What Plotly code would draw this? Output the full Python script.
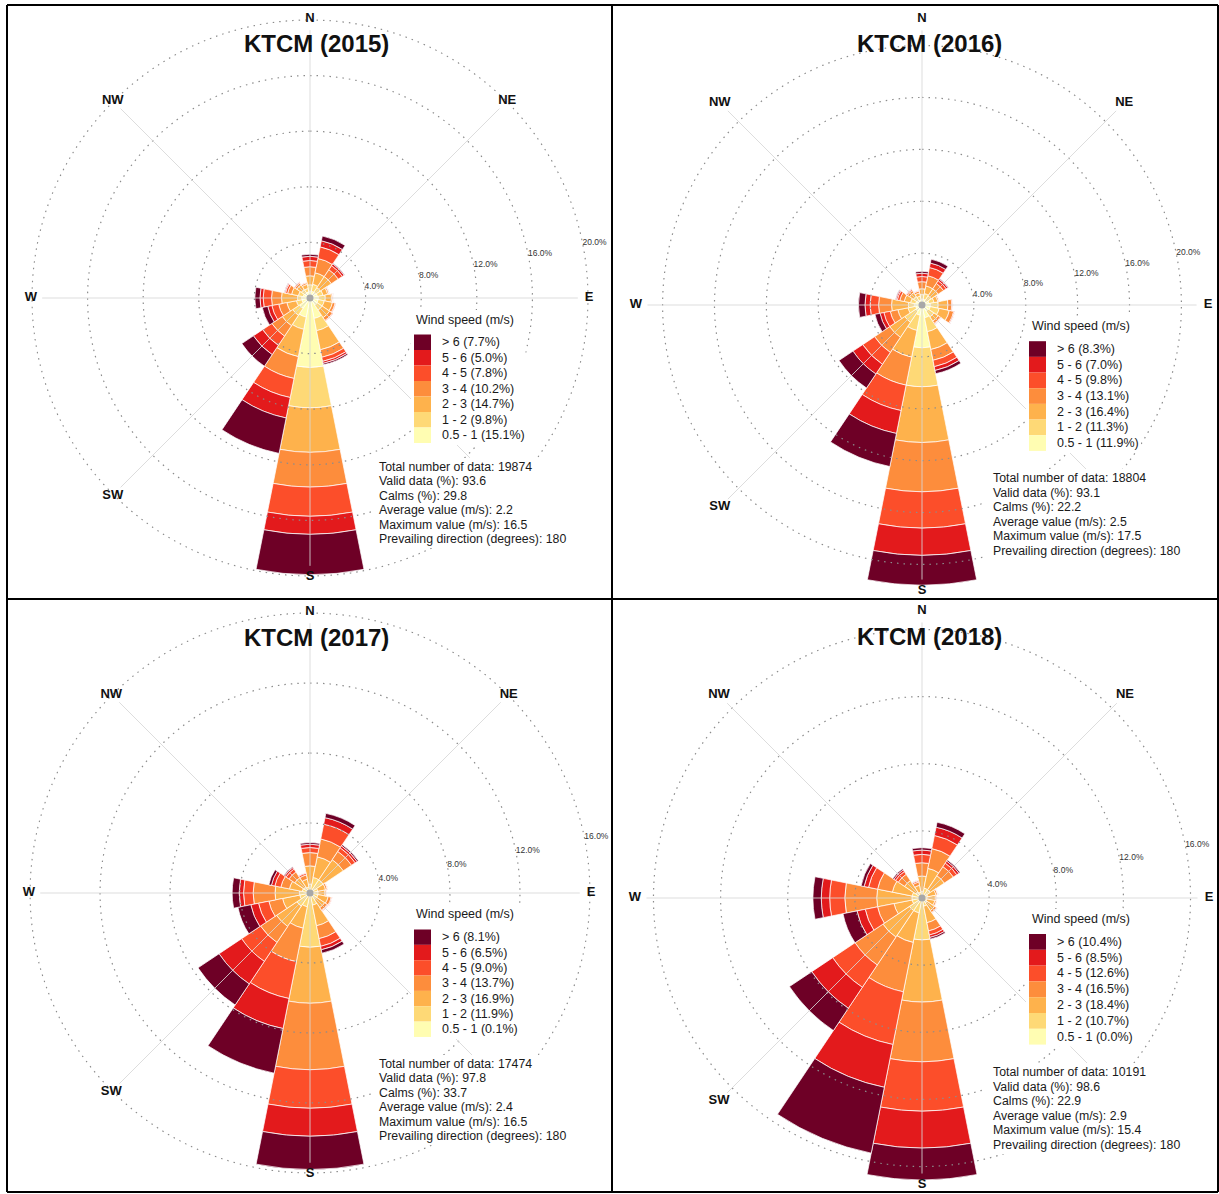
import numpy as np
import plotly.graph_objects as go

W, H = 1219, 1194
FONT = "Liberation Sans, Arial, sans-serif"

# ---- data -------------------------------------------------------------
directions = ["N", "NNE", "NE", "ENE", "E", "ESE", "SE", "SSE",
              "S", "SSW", "SW", "WSW", "W", "WNW", "NW", "NNW"]
bearings = [i * 22.5 for i in range(16)]
speed_bins = ["0.5 - 1", "1 - 2", "2 - 3", "3 - 4", "4 - 5", "5 - 6", "> 6"]
bin_colors = ["#FFFDB2", "#FED976", "#FEB24C", "#FD8D3C",
              "#FC4E2A", "#E31A1C", "#6E0026"]

# frequency (%) of each speed class, by direction N ... NNW
y2015_b0 = [.50, .50, .50, .55, .60, .60, .60, 1.50, 5.00, 1.40, .90, .60, .60, .50, .45, .45]
y2015_b1 = [.45, .50, .40, .40, .50, .45, .45, .90, 2.90, .90, .60, .40, .30, .35, .30, .25]
y2015_b2 = [.65, .85, .95, .35, .45, .60, .65, 1.40, 3.20, 2.00, .90, .70, 1.15, .50, .40, .30]
y2015_b3 = [.65, 1.05, .60, .10, .10, .20, .25, .55, 2.50, 1.60, .90, .60, .72, .30, .15, .12]
y2015_b4 = [.45, .85, .35, .03, .03, .05, .05, .30, 2.10, 1.40, .80, .50, .60, .15, .07, .05]
y2015_b5 = [.30, .45, .15, .01, .01, .00, .00, .15, 1.30, 1.50, .80, .30, .23, .07, .02, .02]
y2015_b6 = [.15, .35, .05, .01, .01, .00, .00, .10, 2.90, 2.60, 1.00, .40, .37, .03, .01, .01]

y2016_b0 = [.45, .45, .40, .55, .65, .65, .60, 1.00, 3.30, .80, .60, .50, .60, .50, .45, .40]
y2016_b1 = [.35, .45, .45, .40, .60, .70, .50, 1.10, 3.00, 1.20, 1.00, .60, .45, .40, .35, .30]
y2016_b2 = [.45, .60, .65, .30, .75, .80, .40, 1.40, 4.30, 2.10, 1.40, .80, 1.30, .50, .35, .25]
y2016_b3 = [.55, .80, .50, .10, .30, .35, .20, .85, 3.80, 2.20, 1.40, .60, 1.00, .35, .20, .15]
y2016_b4 = [.40, .65, .25, .03, .08, .08, .07, .50, 2.80, 2.00, 1.10, .50, .65, .20, .10, .06]
y2016_b5 = [.25, .35, .15, .01, .01, .01, .02, .30, 2.10, 1.80, .90, .30, .40, .10, .03, .02]
y2016_b6 = [.15, .30, .05, .01, .01, .01, .01, .25, 2.30, 2.60, 1.30, .40, .50, .05, .02, .02]

y2017_b0 = [.01, .01, .01, .01, .01, .01, .01, .01, 0, 0, 0, 0, 0, 0, 0, 0]
y2017_b1 = [.50, .90, .90, .45, .45, .45, .45, .70, 3.10, .80, .90, .60, .60, .45, .40, .35]
y2017_b2 = [1.04, 1.20, 1.38, .45, .40, .60, .55, 1.20, 3.20, 1.25, 1.40, 1.00, 1.40, .75, .65, .45]
y2017_b3 = [.76, 1.04, .57, .10, .07, .18, .17, .75, 3.80, 1.95, 1.10, .80, 1.25, .50, .40, .25]
y2017_b4 = [.29, .86, .25, .03, .02, .05, .05, .45, 2.20, 2.15, 1.30, .60, .55, .35, .20, .10]
y2017_b5 = [.19, .38, .13, .01, 0, .01, .02, .20, 1.60, 1.75, 1.55, .45, .25, .20, .10, .04]
y2017_b6 = [.10, .25, .08, 0, 0, 0, 0, .20, 1.90, 2.60, 1.45, .75, .40, .15, .05, .01]

y2018_b0 = [0] * 16
y2018_b1 = [.40, .60, .60, .35, .30, .30, .35, .50, 2.50, .90, .90, .60, .60, .60, .45, .35]
y2018_b2 = [.91, 1.20, 1.00, .50, .50, .48, .55, 1.00, 3.70, 1.80, 1.90, 1.10, 2.10, 1.20, .80, .42]
y2018_b3 = [.79, 1.20, .65, .10, .08, .10, .14, .50, 3.56, 3.00, 2.00, 1.00, 1.90, .90, .45, .20]
y2018_b4 = [.50, .80, .25, .03, .02, .02, .04, .25, 2.94, 3.20, 1.60, .75, .90, .55, .20, .08]
y2018_b5 = [.26, .50, .15, .01, 0, 0, .01, .15, 2.20, 2.60, 1.50, .50, .50, .27, .12, .03]
y2018_b6 = [.14, .30, .08, .01, 0, 0, .01, .10, 1.90, 4.00, 1.60, .85, .50, .18, .08, .02]

# key labels, listed from the strongest class down
key_2015 = ["> 6 (7.7%)", "5 - 6 (5.0%)", "4 - 5 (7.8%)", "3 - 4 (10.2%)",
            "2 - 3 (14.7%)", "1 - 2 (9.8%)", "0.5 - 1 (15.1%)"]
key_2016 = ["> 6 (8.3%)", "5 - 6 (7.0%)", "4 - 5 (9.8%)", "3 - 4 (13.1%)",
            "2 - 3 (16.4%)", "1 - 2 (11.3%)", "0.5 - 1 (11.9%)"]
key_2017 = ["> 6 (8.1%)", "5 - 6 (6.5%)", "4 - 5 (9.0%)", "3 - 4 (13.7%)",
            "2 - 3 (16.9%)", "1 - 2 (11.9%)", "0.5 - 1 (0.1%)"]
key_2018 = ["> 6 (10.4%)", "5 - 6 (8.5%)", "4 - 5 (12.6%)", "3 - 4 (16.5%)",
            "2 - 3 (18.4%)", "1 - 2 (10.7%)", "0.5 - 1 (0.0%)"]

stats_2015 = ["Total number of data: 19874", "Valid data (%): 93.6", "Calms (%): 29.8",
              "Average value (m/s): 2.2", "Maximum value (m/s): 16.5",
              "Prevailing direction (degrees): 180"]
stats_2016 = ["Total number of data: 18804", "Valid data (%): 93.1", "Calms (%): 22.2",
              "Average value (m/s): 2.5", "Maximum value (m/s): 17.5",
              "Prevailing direction (degrees): 180"]
stats_2017 = ["Total number of data: 17474", "Valid data (%): 97.8", "Calms (%): 33.7",
              "Average value (m/s): 2.4", "Maximum value (m/s): 16.5",
              "Prevailing direction (degrees): 180"]
stats_2018 = ["Total number of data: 10191", "Valid data (%): 98.6", "Calms (%): 22.9",
              "Average value (m/s): 2.9", "Maximum value (m/s): 15.4",
              "Prevailing direction (degrees): 180"]

compass_theta = [0, 45, 90, 135, 180, 225, 270, 315]
compass_text = ["N", "NE", "E", "SE", "S", "SW", "W", "NW"]

# ---- panel layout -----------------------------------------------------
panels = [
    dict(year=2015, bins=[y2015_b0, y2015_b1, y2015_b2, y2015_b3, y2015_b4, y2015_b5, y2015_b6],
         key=key_2015, stats=stats_2015, rings=[4, 8, 12, 16, 20],
         cx=310, cy=298, rpx=279, rmax=20.07, title=(316, 44),
         key_x=414, key_top=334.5, key_h=15.5, lab_x=439.5, key_title=(465, 320),
         st_x=377, st_y=467, st_dy=14.4),
    dict(year=2016, bins=[y2016_b0, y2016_b1, y2016_b2, y2016_b3, y2016_b4, y2016_b5, y2016_b6],
         key=key_2016, stats=stats_2016, rings=[4, 8, 12, 16, 20],
         cx=922, cy=305, rpx=286, rmax=22.05, title=(929, 44),
         key_x=1029, key_top=341.2, key_h=15.67, lab_x=1055, key_title=(1081, 326),
         st_x=991, st_y=478, st_dy=14.6),
    dict(year=2017, bins=[y2017_b0, y2017_b1, y2017_b2, y2017_b3, y2017_b4, y2017_b5, y2017_b6],
         key=key_2017, stats=stats_2017, rings=[4, 8, 12, 16],
         cx=310, cy=893, rpx=281, rmax=16.06, title=(316, 637),
         key_x=414, key_top=929.5, key_h=15.35, lab_x=439.5, key_title=(465, 914),
         st_x=377, st_y=1064, st_dy=14.4),
    dict(year=2018, bins=[y2018_b0, y2018_b1, y2018_b2, y2018_b3, y2018_b4, y2018_b5, y2018_b6],
         key=key_2018, stats=stats_2018, rings=[4, 8, 12, 16],
         cx=922, cy=898, rpx=287, rmax=17.1, title=(929, 636),
         key_x=1029, key_top=934, key_h=15.8, lab_x=1055, key_title=(1081, 919),
         st_x=991, st_y=1072, st_dy=14.6),
]


def px(x, y):
    return x / W, 1 - y / H


fig = go.Figure()
shapes, annotations = [], []
ring_theta = np.linspace(0, 360, 721)

for k, p in enumerate(panels):
    sp = "polar" if k == 0 else f"polar{k + 1}"

    # stacked speed classes
    for bi in range(7):
        fig.add_trace(go.Barpolar(
            r=p["bins"][bi], theta=bearings, width=[22.5] * 16,
            marker=dict(color=bin_colors[bi], line=dict(color="rgba(255,255,255,0.9)", width=0.8)),
            name=speed_bins[bi], subplot=sp, showlegend=False, hoverinfo="skip"))

    # dotted frequency rings drawn over the bars
    for ring in p["rings"]:
        fig.add_trace(go.Scatterpolar(
            r=[ring] * len(ring_theta), theta=ring_theta, mode="lines",
            line=dict(color="#8c8c8c", width=1.2, dash="1.5px,5px"),
            subplot=sp, showlegend=False, hoverinfo="skip"))

    # direction spokes
    for b in compass_theta:
        fig.add_trace(go.Scatterpolar(
            r=[0, 0.96 * p["rmax"]], theta=[b, b], mode="lines",
            line=dict(color="rgba(215,215,215,0.85)", width=1),
            subplot=sp, showlegend=False, hoverinfo="skip"))

    # centre marker
    fig.add_trace(go.Scatterpolar(
        r=[0], theta=[0], mode="markers",
        marker=dict(size=7, color="#a8a8a8"),
        subplot=sp, showlegend=False, hoverinfo="skip"))

    # compass labels
    fig.add_trace(go.Scatterpolar(
        r=[p["rmax"]] * len(compass_theta), theta=compass_theta, mode="text",
        text=[f"<b>{t}</b>" for t in compass_text],
        textfont=dict(family=FONT, size=13, color="#111"),
        cliponaxis=False, subplot=sp, showlegend=False, hoverinfo="skip"))

    # ring labels
    fig.add_trace(go.Scatterpolar(
        r=p["rings"], theta=[78.5] * len(p["rings"]), mode="text",
        text=[f"{v:.1f}%" for v in p["rings"]], textposition="middle right",
        textfont=dict(family=FONT, size=8.5, color="#333"),
        cliponaxis=False, subplot=sp, showlegend=False, hoverinfo="skip"))

    cx, cy, R = p["cx"], p["cy"], p["rpx"]
    fig.update_layout(**{sp: dict(
        domain=dict(x=[(cx - R) / W, (cx + R) / W], y=[1 - (cy + R) / H, 1 - (cy - R) / H]),
        bgcolor="white", barmode="stack", bargap=0,
        angularaxis=dict(rotation=90, direction="clockwise", showgrid=False,
                         showline=False, showticklabels=False, ticks=""),
        radialaxis=dict(range=[0, p["rmax"]], showgrid=False, showline=False,
                        showticklabels=False, ticks=""))})

    # title
    tx, ty = px(*p["title"])
    annotations.append(dict(x=tx, y=ty, xref="paper", yref="paper", showarrow=False,
                            text=f"<b>KTCM ({p['year']})</b>", xanchor="center", yanchor="middle",
                            font=dict(family=FONT, size=24, color="#111")))

    # key: white panel, colour cells, labels
    kx0, kt, kh = p["key_x"], p["key_top"], p["key_h"]
    x0, y0 = px(kx0 - 3, p["key_title"][1] - 10)
    x1, y1 = px(p["lab_x"] + 86, kt + 7 * kh + 2)
    shapes.append(dict(type="rect", xref="paper", yref="paper", x0=x0, x1=x1, y0=y1, y1=y0,
                       fillcolor="white", line=dict(width=0), layer="above"))
    for i, lab in enumerate(p["key"]):
        ci = 6 - i
        a0, b0 = px(kx0, kt + i * kh)
        a1, b1 = px(kx0 + 17, kt + (i + 1) * kh)
        shapes.append(dict(type="rect", xref="paper", yref="paper", x0=a0, x1=a1, y0=b1, y1=b0,
                           fillcolor=bin_colors[ci], line=dict(width=0), layer="above"))
        lx, ly = px(p["lab_x"], kt + (i + 0.5) * kh)
        annotations.append(dict(x=lx, y=ly, xref="paper", yref="paper", showarrow=False,
                                text=lab, xanchor="left", yanchor="middle",
                                font=dict(family=FONT, size=12.5, color="#1a1a1a")))
    kx, ky = px(*p["key_title"])
    annotations.append(dict(x=kx, y=ky, xref="paper", yref="paper", showarrow=False,
                            text="Wind speed (m/s)", xanchor="center", yanchor="middle",
                            font=dict(family=FONT, size=12.5, color="#1a1a1a")))

    # summary statistics
    sx, sy, sdy = p["st_x"], p["st_y"], p["st_dy"]
    x0, y0 = px(sx - 5, sy - 9)
    x1, y1 = px(sx + 196, sy + 5 * sdy + 9)
    shapes.append(dict(type="rect", xref="paper", yref="paper", x0=x0, x1=x1, y0=y1, y1=y0,
                       fillcolor="white", line=dict(width=0), layer="above"))
    for j, line in enumerate(p["stats"]):
        lx, ly = px(sx, sy + j * sdy)
        annotations.append(dict(x=lx, y=ly, xref="paper", yref="paper", showarrow=False,
                                text=line, xanchor="left", yanchor="middle",
                                font=dict(family=FONT, size=12.3, color="#1a1a1a")))

# panel frames
frame = dict(color="black", width=2)
for (xa, ya, xb, yb) in [(7, 5, 1218, 5), (7, 1192, 1218, 1192), (7, 5, 7, 1192),
                         (1218, 5, 1218, 1192), (612, 5, 612, 1192), (7, 599, 1218, 599)]:
    a0, b0 = px(xa, ya)
    a1, b1 = px(xb, yb)
    shapes.append(dict(type="line", xref="paper", yref="paper", x0=a0, y0=b0, x1=a1, y1=b1,
                       line=frame, layer="above"))

fig.update_layout(width=W, height=H, margin=dict(l=0, r=0, t=0, b=0),
                  paper_bgcolor="white", plot_bgcolor="white",
                  shapes=shapes, annotations=annotations, showlegend=False,
                  font=dict(family=FONT))

fig.write_html("out.html")
